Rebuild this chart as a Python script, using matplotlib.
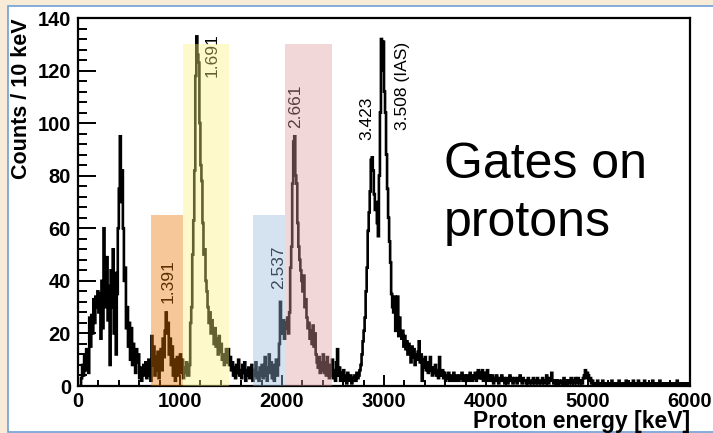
import numpy as np
import matplotlib
matplotlib.use("Agg")
import matplotlib.pyplot as plt
from matplotlib.patches import Rectangle

plt.rcParams['font.family'] = ['Liberation Sans', 'DejaVu Sans']

# histogram: counts per 10 keV bin, 0 - 6000 keV (one row = 200 keV)
counts = [
    0, 0, 0, 3, 8, 4, 12, 6, 14, 10, 5, 26, 15, 27, 20, 33, 24, 34, 30, 36,
    28, 35, 18, 40, 22, 60, 45, 30, 49, 25, 38, 8, 44, 30, 52, 20, 43, 12, 35, 60,
    75, 95, 70, 82, 60, 40, 45, 22, 30, 15, 24, 10, 22, 8, 16, 12, 5, 14, 9, 12,
    3, 7, 2, 5, 8, 4, 9, 3, 6, 10, 4, 2, 19, 8, 15, 4, 11, 6, 13, 3,
    9, 14, 6, 18, 11, 21, 28, 20, 24, 12, 18, 8, 15, 4, 10, 2, 6, 11, 4, 9,
    12, 5, 10, 3, 7, 5, 9, 4, 4, 8, 24, 30, 50, 63, 82, 118, 133, 126, 123, 100,
    84, 78, 62, 50, 52, 40, 36, 30, 24, 28, 20, 25, 21, 16, 22, 15, 18, 12, 19, 13,
    16, 10, 12, 8, 11, 14, 9, 14, 8, 11, 6, 9, 4, 7, 3, 8, 5, 10, 4, 6,
    3, 8, 5, 9, 2, 6, 4, 7, 3, 5, 8, 2, 6, 4, 9, 3, 5, 2, 7, 4,
    8, 3, 6, 11, 4, 2, 7, 12, 5, 9, 3, 8, 2, 6, 10, 4, 8, 16, 32, 20,
    22, 25, 18, 24, 22, 26, 20, 28, 45, 53, 77, 93, 95, 80, 77, 62, 53, 48, 44, 40,
    36, 42, 30, 33, 26, 22, 24, 18, 21, 16, 23, 15, 20, 12, 9, 7, 11, 5, 9, 6,
    12, 5, 9, 4, 11, 6, 3, 8, 4, 10, 3, 6, 2, 9, 14, 4, 7, 2, 5, 3,
    6, 2, 4, 1, 5, 3, 2, 4, 1, 3, 2, 4, 2, 5, 3, 4, 6, 8, 12, 17,
    21, 26, 36, 45, 59, 66, 74, 86, 87, 82, 73, 67, 70, 62, 57, 80, 104, 132, 120, 131,
    112, 104, 88, 75, 64, 55, 47, 35, 30, 28, 34, 21, 26, 34, 19, 26, 20, 18, 21, 15,
    19, 14, 17, 12, 16, 13, 9, 15, 11, 14, 8, 12, 10, 13, 17, 9, 12, 2, 10, 7,
    11, 6, 9, 5, 8, 11, 6, 4, 7, 5, 8, 4, 6, 3, 11, 5, 4, 6, 3, 5,
    2, 4, 3, 5, 2, 3, 4, 2, 5, 3, 2, 4, 3, 2, 4, 3, 5, 2, 3, 4,
    2, 4, 3, 2, 5, 3, 2, 4, 3, 5, 2, 4, 6, 3, 5, 3, 6, 2, 4, 5,
    3, 6, 2, 4, 3, 2, 4, 1, 3, 2, 4, 2, 1, 3, 2, 4, 2, 3, 1, 2,
    3, 1, 2, 4, 2, 3, 1, 2, 3, 2, 1, 3, 2, 4, 2, 1, 3, 2, 2, 1,
    2, 3, 1, 2, 2, 1, 3, 2, 1, 2, 3, 1, 2, 2, 1, 3, 2, 1, 2, 4,
    2, 1, 3, 2, 5, 2, 1, 2, 1, 2, 1, 2, 1, 1, 2, 1, 3, 1, 2, 1,
    2, 1, 2, 3, 1, 2, 1, 3, 2, 1, 3, 2, 1, 2, 1, 3, 4, 6, 3, 5,
    4, 2, 3, 1, 2, 1, 1, 0, 1, 2, 1, 0, 1, 1, 2, 1, 0, 1, 1, 0,
    1, 0, 1, 2, 1, 0, 1, 1, 0, 1, 2, 1, 0, 1, 1, 0, 1, 2, 1, 0,
    1, 1, 0, 1, 2, 1, 0, 1, 1, 2, 1, 0, 1, 1, 0, 2, 1, 1, 0, 1,
    0, 1, 1, 2, 1, 0, 1, 1, 0, 1, 2, 1, 1, 0, 1, 1, 0, 1, 1, 0,
    1, 0, 1, 1, 0, 1, 1, 2, 1, 0, 1, 1, 0, 1, 0, 1, 1, 0, 1, 0,
]
bin_edges = np.arange(0, 6001, 10)

# gates
gate_lo = [720, 1030, 1715, 2030]
gate_hi = [1030, 1480, 2030, 2490]
gate_top = [65, 130, 65, 130]
gate_colors = ['#e67500', '#faf27f', '#98b9dc', '#de9d9d']

# peak labels (MeV)
peak_labels = ["1.391", "1.691", "2.537", "2.661", "3.423", "3.508 (IAS)"]
peak_x = [887, 1312, 1963, 2137, 2833, 3186]
peak_y = [40, 126, 45, 106.5, 102, 114]

W, H = 713, 433
fig = plt.figure(figsize=(W / 100, H / 100), dpi=100)
fig.patch.set_facecolor('#f8ebd7')

# white slide panel with blue border, behind everything
bg = fig.add_axes([0, 0, 1, 1], zorder=-1)
bg.set_xlim(0, W)
bg.set_ylim(H, 0)
bg.axis('off')
bg.add_patch(Rectangle((8, 6), W + 10, 426, facecolor='white', edgecolor='#6f9fd6', lw=1.2))

ax = fig.add_axes([78 / W, (H - 386) / H, (690 - 78) / W, (386 - 18) / H])
ax.set_facecolor('white')

ax.stairs(counts, bin_edges, color='black', lw=1.9, baseline=0, zorder=2)

for lo, hi, top, c in zip(gate_lo, gate_hi, gate_top, gate_colors):
    ax.bar(lo, top, width=hi - lo, align='edge', color=c, alpha=0.4, lw=0, zorder=3)

for lab, x, y in zip(peak_labels, peak_x, peak_y):
    ax.text(x, y, lab, rotation=90, ha='center', va='center', fontsize=12.5, zorder=2.5)

ax.text(3590, 79, "Gates on", fontsize=36, ha='left', va='baseline')
ax.text(3590, 57, "protons", fontsize=36, ha='left', va='baseline')

ax.set_xlim(0, 6000)
ax.set_ylim(0, 140)
ax.set_xticks(np.arange(0, 6001, 1000))
ax.set_xticks(np.arange(0, 6001, 200), minor=True)
ax.set_yticks(np.arange(0, 141, 20))
ax.set_yticks(np.arange(0, 141, 4), minor=True)
ax.tick_params(axis='both', which='both', direction='in', width=1.4, labelsize=14.5)
ax.tick_params(axis='y', which='major', length=13, pad=5)
ax.tick_params(axis='y', which='minor', length=6.5)
ax.tick_params(axis='x', which='major', length=8, pad=4)
ax.tick_params(axis='x', which='minor', length=4)
for lab in ax.get_xticklabels() + ax.get_yticklabels():
    lab.set_fontweight('bold')
for s in ax.spines.values():
    s.set_linewidth(1.6)

fig.text(22 / W, (H - 18) / H, "Counts / 10 keV", rotation=90, ha='center', va='top',
         fontsize=15.5, fontweight='bold')
fig.text(690 / W, (H - 428) / H, "Proton energy [keV]", ha='right', va='baseline',
         fontsize=16.5, fontweight='bold')

fig.savefig('out.png', dpi=100, facecolor=fig.get_facecolor())
